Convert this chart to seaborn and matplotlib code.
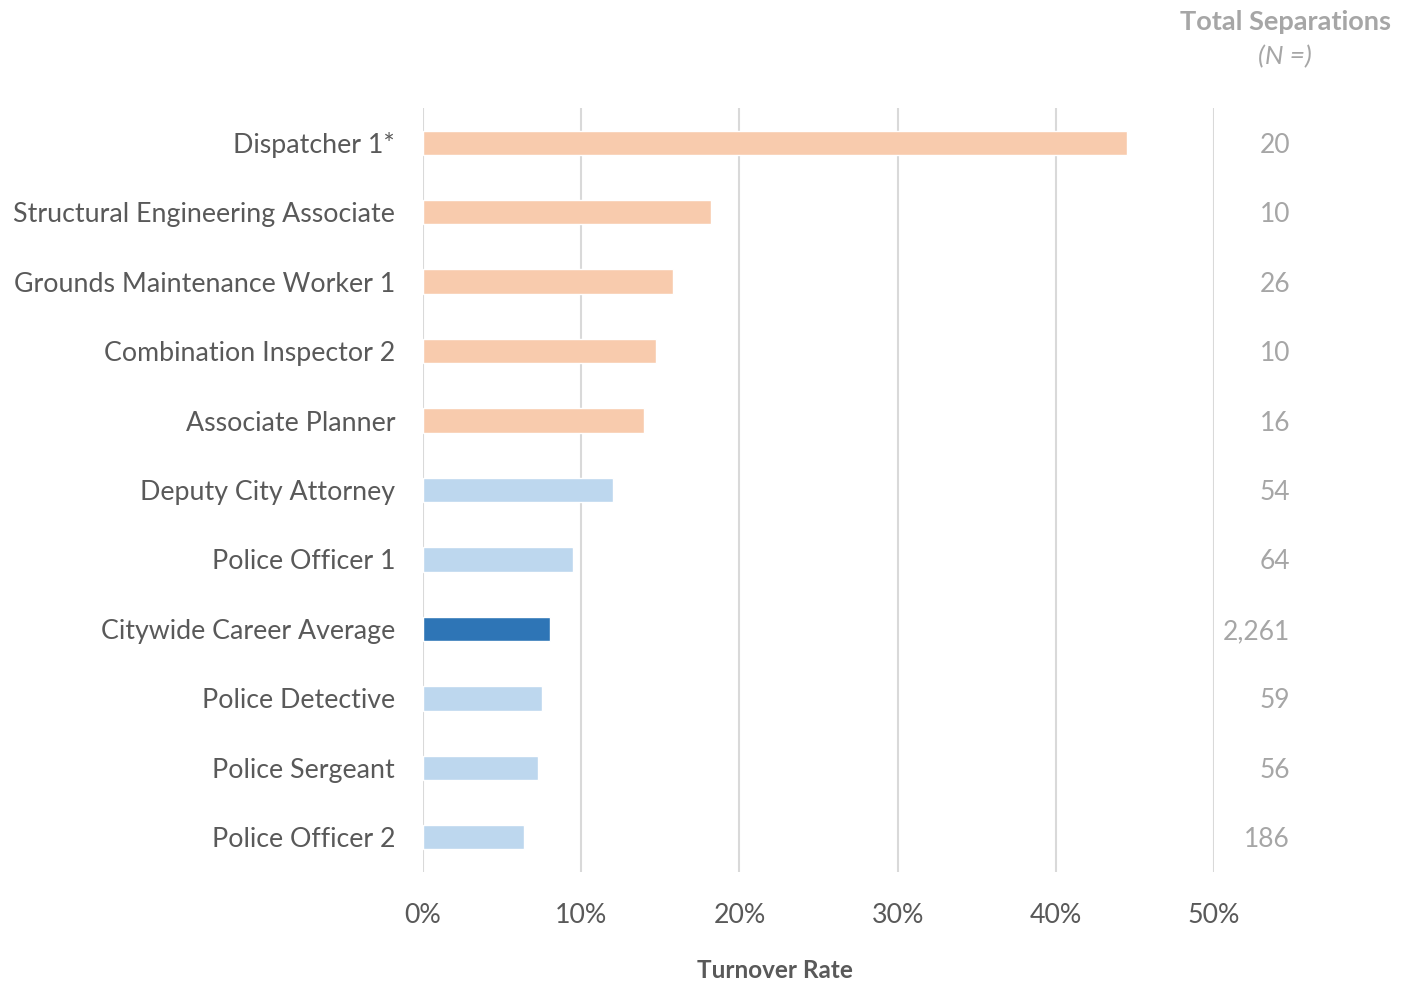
import pandas as pd
import matplotlib.pyplot as plt
import matplotlib.transforms as mtransforms
import seaborn as sns

# dane
jobs = ['Dispatcher 1*', 'Structural Engineering Associate', 'Grounds Maintenance Worker 1',
        'Combination Inspector 2', 'Associate Planner', 'Deputy City Attorney',
        'Police Officer 1', 'Citywide Career Average', 'Police Detective',
        'Police Sergeant', 'Police Officer 2']
rates = [44.5, 18.2, 15.8, 14.7, 14.0, 12.0, 9.5, 8.0, 7.5, 7.3, 6.4]
separations = ['20', '10', '26', '10', '16', '54', '64', '2,261', '59', '56', '186']
groups = ['high'] * 5 + ['low'] * 2 + ['avg'] + ['low'] * 3

colors = {'high': '#F8CBAD', 'low': '#BDD7EE', 'avg': '#2E75B6'}

df = pd.DataFrame({'job': jobs, 'rate': rates, 'group': groups})

sns.set_style('white')
plt.rcParams['font.family'] = ['Lato', 'DejaVu Sans']

fig = plt.figure(figsize=(14.06, 9.82), dpi=100)
ax = fig.add_axes([423 / 1406, 1 - 872 / 982, (1214 - 423) / 1406, (872 - 108) / 982])

sns.barplot(data=df, x='rate', y='job', hue='group', palette=colors, dodge=False,
            width=0.35, saturation=1, legend=False, ax=ax, zorder=3)

ax.set_xlim(0, 50)
ax.set_ylim(10.5, -0.5)
ax.set_xticks([0, 10, 20, 30, 40, 50])
ax.set_xticklabels([f'{t}%' for t in range(0, 60, 10)])
ax.grid(axis='x', color='#d9d9d9', linewidth=1.5, zorder=0)
ax.grid(axis='y', visible=False)
for s in ax.spines.values():
    s.set_visible(False)
ax.tick_params(axis='both', length=0, labelsize=19.3, colors='#595959')
ax.tick_params(axis='x', pad=22)
ax.tick_params(axis='y', pad=20)
ax.set_xlabel('')
ax.set_ylabel('')

# kolumna z liczbą odejść (x w układzie figury, y w danych)
trans = mtransforms.blended_transform_factory(fig.transFigure, ax.transData)
for i, n in enumerate(separations):
    ax.text(1290 / 1406, i, n, transform=trans, ha='right', va='center_baseline',
            fontsize=19, color='#a6a6a6')

fig.text(1285 / 1406, 1 - 22 / 982, 'Total Separations', ha='center', va='center',
         fontsize=19.5, fontweight='bold', color='#a6a6a6')
fig.text(1285 / 1406, 1 - 57 / 982, '(N =)', ha='center', va='center',
         fontsize=19, style='italic', color='#a6a6a6')
fig.text(775 / 1406, 1 - 970 / 982, 'Turnover Rate', ha='center', va='center',
         fontsize=17.5, fontweight='bold', color='#595959')

fig.savefig('out.png', dpi=100)
